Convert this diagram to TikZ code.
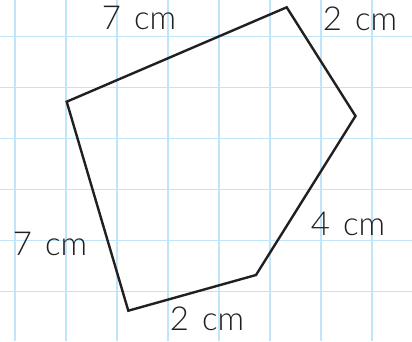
\documentclass[tikz,border=0pt]{standalone}
\usepackage{fontspec}
\setmainfont{Lato}[UprightFont=* Light]
\usetikzlibrary{calc}
\definecolor{gridblue}{HTML}{BFE6F8}
\definecolor{ink}{HTML}{231F20}
\tikzset{
  gridline/.style={draw=gridblue, line width=1.9pt},
  side/.style={draw=ink, line width=2.4pt, line join=miter},
  lab/.style={font=\fontsize{33pt}{36pt}\selectfont, text=ink, anchor=base, inner sep=0pt},
}
\newcommand{\sidelen}[1]{#1\hspace{0.4em}cm}

\begin{document}
\begin{tikzpicture}[x=1pt, y=-1pt]
  \useasboundingbox (0,0) rectangle (412,341);
  \fill[white] (0,0) rectangle (412,341);
  % squared paper
  \foreach \i in {0,...,7} {
    \draw[gridline] (15+51*\i,0) -- (15+51*\i,341);
  }
  \foreach \j in {0,...,5} {
    \draw[gridline] (0,36.5+51*\j) -- (412,36.5+51*\j);
  }
  % corners of the pentagon
  \coordinate (pA) at (66.7,101.7);
  \coordinate (pB) at (286.7,7.3);
  \coordinate (pC) at (355.5,116);
  \coordinate (pD) at (256,275);
  \coordinate (pE) at (128.3,310.7);
  \draw[side] (pA) -- (pB) -- (pC) -- (pD) -- (pE) -- cycle;
  % side lengths
  \node[lab] (lAB) at (139,29.5) {\sidelen{7}};
  \node[lab] (lBC) at (360,30.5) {\sidelen{2}};
  \node[lab] (lCD) at (348,235) {\sidelen{4}};
  \node[lab] (lEA) at (50,255) {\sidelen{7}};
  \node[lab] (lDE) at (207,330) {\sidelen{2}};
\end{tikzpicture}
\end{document}
